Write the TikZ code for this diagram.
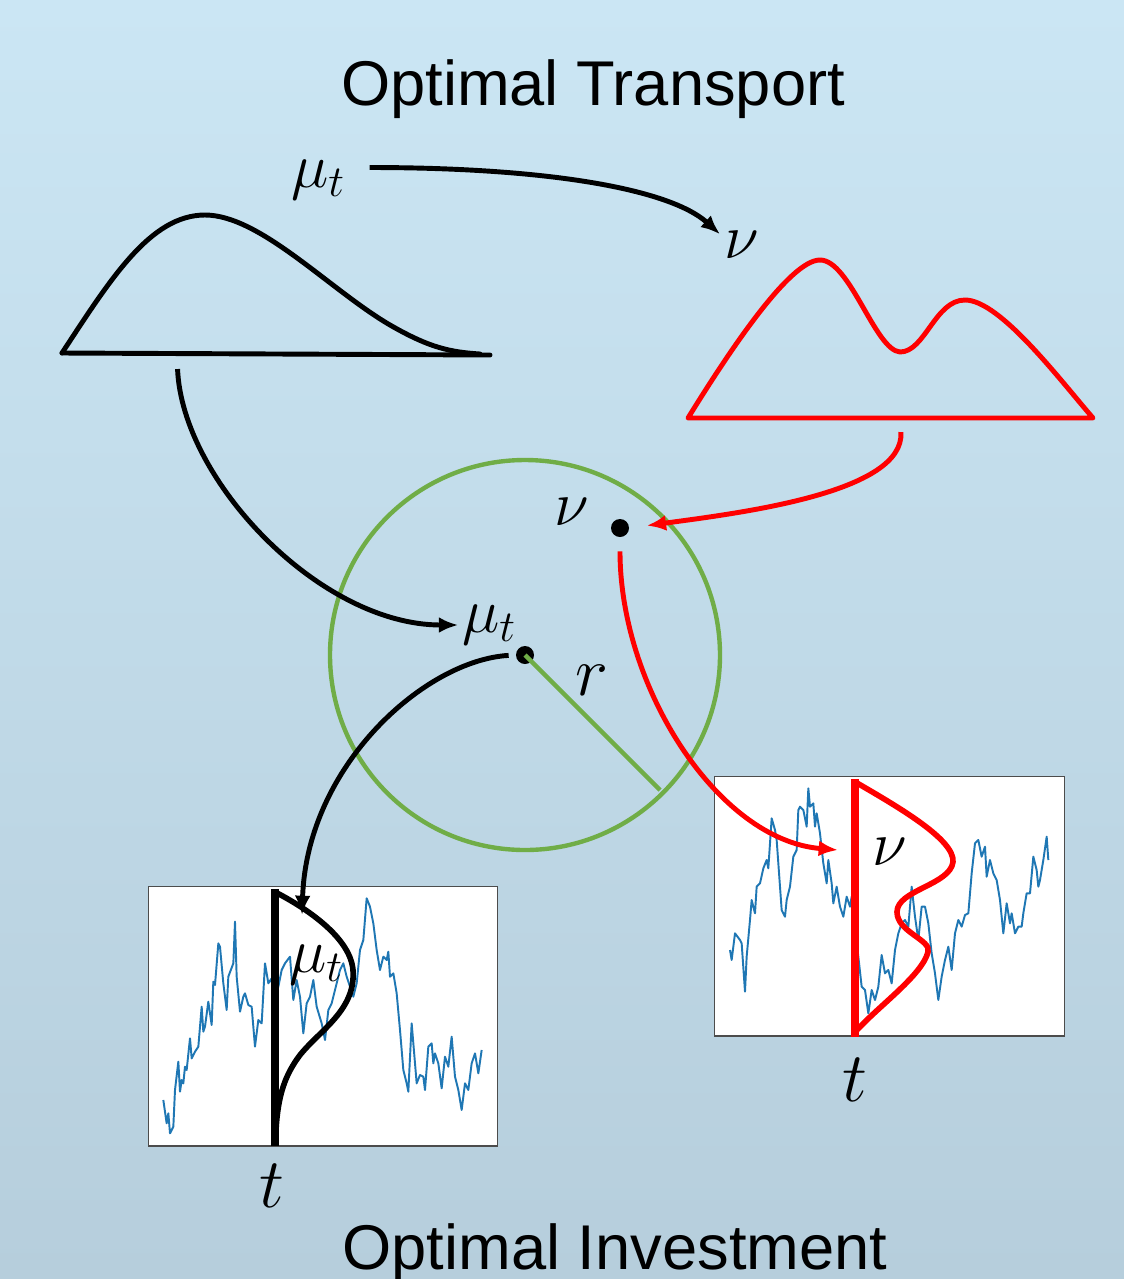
\RequirePackage{fix-cm}
\documentclass[tikz,border=0pt]{standalone}
\usepackage{fontspec}
\newfontfamily\titlefont{Liberation Sans}
\usetikzlibrary{arrows.meta,positioning}
\definecolor{ringgreen}{HTML}{70AD47}
\definecolor{walkblue}{HTML}{1F77B4}
\definecolor{bgtop}{HTML}{CBE6F4}
\definecolor{bgbottom}{HTML}{B6CEDC}

\begin{document}
\begin{tikzpicture}[x=0.02cm, y=-0.02cm, >=Latex]

\tikzset{
  lbl/.style={font=\fontsize{36}{36}\selectfont, inner sep=1pt},
  biglbl/.style={font=\fontsize{40}{40}\selectfont, inner sep=1pt},
  title/.style={font=\titlefont\fontsize{36}{40}\selectfont, inner sep=0pt},
  curve/.style={line width=2.8pt, line join=round, line cap=round},
  arrow/.style={-{Latex[length=11pt,width=9pt]}, line width=2.8pt},
  dot/.style={circle, fill=black, inner sep=0pt, minimum size=0.36cm},
  plotbox/.style={draw=black!70, fill=white, line width=0.6pt, inner sep=0pt,
    minimum width=7cm, minimum height=5.2cm},
  walk/.style={walkblue, line width=1.1pt, line join=round},
  tline/.style={line width=4pt}
}

% ==========================
% Background
% ==========================
\shade[top color=bgtop, bottom color=bgbottom] (0,0) rectangle (1124,1279);
\useasboundingbox (0,0) rectangle (1124,1279);

% ==========================
% Top: optimal transport between the two laws
% ==========================
\node[title] (ottitle) at (593,89) {Optimal Transport};

\draw[curve] (62,353) -- (490,355);
\draw[curve] (62,353) .. controls (110,280) and (150,215) .. (205,215)
  .. controls (260,215) and (330,290) .. (390,325)
  .. controls (430,348) and (450,352) .. (480,354);
\coordinate (mubase) at (177,355);

\draw[curve, red] (688,418) .. controls (730,350) and (790,260) .. (820,260)
  .. controls (850,260) and (875,350) .. (900,352)
  .. controls (925,352) and (935,300) .. (965,300)
  .. controls (1000,300) and (1060,380) .. (1093,418) -- cycle;
\coordinate (nubase) at (900,418);

\node[lbl] (mutop) at (318,180) {$\mu_t$};
\node[lbl] (nutop) at (742,245) {$\nu$};

\draw[arrow] ([shift={(0.45cm,0.25cm)}]mutop.east)
  .. controls +(180,0) and +(-50,-45) .. ([shift={(-0.05cm,-0.1cm)}]nutop.north west);

% ==========================
% Middle: ball of radius r around mu_t
% ==========================
\node[dot] (mudot) at (525,655) {};
\node[dot] (nudot) at (620,528) {};
\draw[ringgreen, line width=2.5pt] (mudot.center) circle[radius=195];
\coordinate (rimpt) at (660,790);
\draw[ringgreen, line width=2.5pt] (mudot.center) -- (rimpt);

\node[lbl] (mucirc) at (489,625) {$\mu_t$};
\node[lbl] (nucirc) at (572,512) {$\nu$};
\node[biglbl] (rlbl) at (592,680) {$r$};

\draw[arrow, shorten <=8pt, shorten >=1pt] (mubase)
  .. controls +(5,125) and +(-140,0) .. (mucirc.west);
\draw[arrow, red, shorten <=8pt, shorten >=10pt] (nubase)
  .. controls +(5,75) and +(110,-15) .. (nudot.east);

% ==========================
% Bottom: optimal investment, two price paths
% ==========================
\node[plotbox] (leftplot) at (323,1016) {};
\node[plotbox] (rightplot) at (889.5,906) {};

\begin{scope}[shift={(140,870)}, scale=1/3]
\draw[walk] (70,690)--(80,760)--(85,730)--(90,790)--(100,770)--(105,660)--(115,575)
  --(120,665)--(125,630)--(130,640)--(135,590)--(140,600)--(150,505)--(155,565)
  --(165,545)--(175,530)--(185,410)--(190,485)--(195,470)--(205,395)--(215,465)
  --(220,335)--(225,345)--(235,220)--(240,230)--(250,340)--(260,420)--(265,320)
  --(280,280)--(285,155)--(290,320)--(300,425)--(310,380)--(315,370)--(325,405)
  --(335,410)--(345,530)--(355,450)--(365,460)--(375,280)--(385,340)--(395,325)
  --(400,400)--(415,350)--(425,300)--(435,280)--(450,260)--(460,390)--(470,330)
  --(480,380)--(490,490)--(500,400)--(510,380)--(520,330)--(530,410)--(545,460)
  --(555,510)--(565,420)--(575,400)--(590,340)--(600,300)--(610,280)--(620,320)
  --(640,380)--(650,340)--(660,240)--(670,210)--(680,85)--(690,110)--(700,160)
  --(710,240)--(720,300)--(730,260)--(740,270)--(745,245)--(750,320)--(760,310)
  --(770,370)--(780,480)--(790,600)--(800,640)--(805,665)--(815,460)--(825,580)
  --(830,640)--(840,615)--(850,620)--(855,660)--(865,530)--(875,520)--(880,580)
  --(885,550)--(895,580)--(905,655)--(915,560)--(925,590)--(935,500)--(945,620)
  --(955,660)--(965,720)--(975,640)--(985,660)--(995,580)--(1005,550)--(1015,610)
  --(1025,540);
\end{scope}

\begin{scope}[shift={(700,760)}, scale=1/3]
\draw[walk] (90,570)--(95,600)--(105,520)--(120,540)--(125,550)--(135,695)--(140,590)
  --(150,480)--(155,420)--(165,460)--(170,380)--(180,370)--(190,325)--(200,300)
  --(205,325)--(215,175)--(225,210)--(230,240)--(240,380)--(245,450)--(255,470)
  --(260,420)--(270,380)--(280,290)--(290,270)--(295,150)--(300,140)--(310,150)
  --(320,200)--(325,85)--(330,140)--(340,130)--(345,200)--(350,160)--(360,220)
  --(370,310)--(380,370)--(385,300)--(395,370)--(400,430)--(410,380)--(420,440)
  --(430,470)--(440,410)--(450,440)--(455,410)--(465,500)--(475,590)--(485,680)
  --(495,690)--(505,760)--(515,690)--(525,720)--(535,680)--(545,585)--(555,640)
  --(565,630)--(575,670)--(585,570)--(595,520)--(605,490)--(615,480)--(625,500)
  --(635,380)--(645,470)--(655,540)--(665,440)--(675,440)--(685,490)--(695,580)
  --(705,640)--(715,720)--(725,650)--(735,600)--(745,560)--(755,630)--(765,520)
  --(775,480)--(785,500)--(795,465)--(805,460)--(815,340)--(825,250)--(835,240)
  --(845,290)--(855,260)--(860,350)--(870,300)--(880,340)--(890,360)--(900,420)
  --(910,520)--(920,430)--(930,490)--(935,460)--(945,520)--(955,500)--(965,500)
  --(970,460)--(980,400)--(990,400)--(1000,290)--(1010,330)--(1015,380)--(1020,360)
  --(1030,300)--(1040,230)--(1045,300);
\end{scope}

% law of mu_t at time t
\draw[tline] (275,889) -- (275,1146);
\draw[curve, line width=3.2pt] (277,893) .. controls (300,905) and (350,935) .. (353,970)
  .. controls (356,1010) and (320,1030) .. (300,1055)
  .. controls (285,1075) and (278,1095) .. (276,1130);
\coordinate (mutip) at (302,915);
\node[lbl] (mubox) at (316,965) {$\mu_t$};
\node[biglbl] (tleft) at (272,1186) {$t$};

% law of nu at time t
\draw[tline, red] (855,779) -- (855,1037);
\draw[curve, red, line width=3.2pt] (857,783) .. controls (900,808) and (955,840) .. (953,862)
  .. controls (950,885) and (897,890) .. (897,912)
  .. controls (897,932) and (932,940) .. (928,952)
  .. controls (922,975) and (880,1005) .. (857,1030);
\coordinate (nutip) at (838,850);
\node[lbl] (nubox) at (890,852) {$\nu$};
\node[biglbl] (tright) at (855,1080) {$t$};

\draw[arrow, shorten <=4pt] (mudot.west)
  .. controls +(-90,5) and +(5,-150) .. (mutip);
\draw[arrow, red, shorten <=8pt] (nudot.south)
  .. controls +(0,150) and +(-120,-10) .. (nutip);

\node[title] (oititle) at (615,1253) {Optimal Investment};

\end{tikzpicture}
\end{document}
